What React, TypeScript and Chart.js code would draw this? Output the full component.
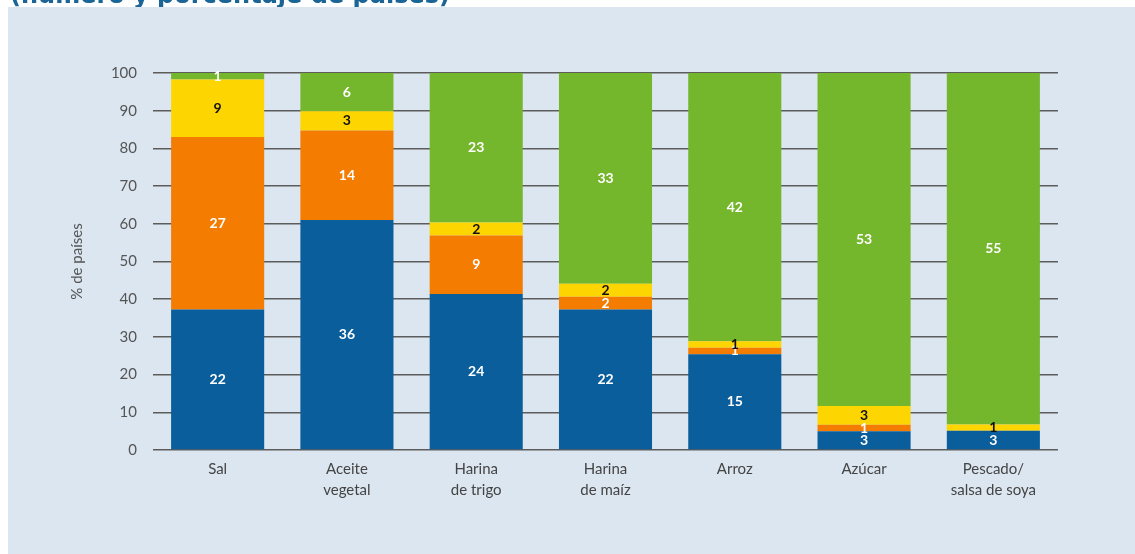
import React, { useEffect, useRef } from "react";
import { Chart, registerables } from "chart.js";

Chart.register(...registerables);

const categories: string[][] = [
  ["Sal"],
  ["Aceite", "vegetal"],
  ["Harina", "de trigo"],
  ["Harina", "de maíz"],
  ["Arroz"],
  ["Azúcar"],
  ["Pescado/", "salsa de soya"],
];

const blueCounts = [22, 36, 24, 22, 15, 3, 3];
const orangeCounts = [27, 14, 9, 2, 1, 1, 0];
const yellowCounts = [9, 3, 2, 2, 1, 3, 1];
const greenCounts = [1, 6, 23, 33, 42, 53, 55];

const yTicks = [0, 10, 20, 30, 40, 50, 60, 70, 80, 90, 100];

const seriesCounts = [blueCounts, orangeCounts, yellowCounts, greenCounts];
const seriesColors = ["#0b5e9c", "#f47c00", "#fdd500", "#74b62c"];
const labelColors = ["#ffffff", "#ffffff", "#111111", "#ffffff"];

const totals = categories.map((_, i) =>
  seriesCounts.reduce((s, arr) => s + arr[i], 0)
);
const toPct = (arr: number[]) => arr.map((v, i) => (v / totals[i]) * 100);

const FONT = "Lato, 'Open Sans', sans-serif";

const countLabels = {
  id: "countLabels",
  afterDatasetsDraw(chart: any) {
    const ctx = chart.ctx;
    ctx.save();
    ctx.font = `bold 14px ${FONT}`;
    ctx.textAlign = "center";
    ctx.textBaseline = "middle";
    chart.data.datasets.forEach((ds: any, di: number) => {
      const meta = chart.getDatasetMeta(di);
      meta.data.forEach((bar: any, i: number) => {
        const c = seriesCounts[di][i];
        if (!c) return;
        const y = (bar.y + bar.base) / 2;
        ctx.fillStyle = labelColors[di];
        ctx.fillText(String(c), bar.x, y);
      });
    });
    ctx.restore();
  },
};

export default function App() {
  const ref = useRef<HTMLCanvasElement | null>(null);

  useEffect(() => {
    if (!ref.current) return;
    const chart = new Chart(ref.current, {
      type: "bar",
      data: {
        labels: categories,
        datasets: seriesCounts.map((arr, di) => ({
          label: String(di),
          data: toPct(arr),
          backgroundColor: seriesColors[di],
          borderWidth: 0,
          barPercentage: 0.72,
          categoryPercentage: 1,
        })),
      },
      options: {
        animation: false,
        responsive: false,
        maintainAspectRatio: false,
        layout: { padding: { left: 58, right: 77, top: 66, bottom: 0 } },
        plugins: {
          legend: { display: false },
          tooltip: { enabled: false },
        },
        scales: {
          x: {
            stacked: true,
            grid: { display: false, drawTicks: false },
            border: { display: false },
            ticks: {
              color: "#444444",
              font: { family: FONT, size: 15, lineHeight: 1.45 },
              padding: 8,
              maxRotation: 0,
              autoSkip: false,
            },
            afterFit: (s: any) => {
              s.height = 104;
            },
          },
          y: {
            stacked: true,
            min: 0,
            max: 100,
            afterBuildTicks: (s: any) => {
              s.ticks = yTicks.map((v) => ({ value: v }));
            },
            grid: {
              color: "#5c5c5c",
              lineWidth: 1.5,
              drawTicks: false,
            },
            border: { display: false },
            ticks: {
              color: "#555555",
              font: { family: FONT, size: 15 },
              padding: 16,
            },
            title: {
              display: true,
              text: "% de países",
              color: "#555555",
              font: { family: FONT, size: 15 },
              padding: 2,
            },
            afterFit: (s: any) => {
              s.width = 87;
            },
          },
        },
      },
      plugins: [countLabels],
    });
    return () => chart.destroy();
  }, []);

  return (
    <div>
      <div
        style={{
          position: "fixed",
          left: 10,
          top: -17,
          fontFamily: "'DejaVu Sans', sans-serif",
          fontWeight: 700,
          fontSize: 24,
          lineHeight: "24px",
          color: "#1a6496",
          whiteSpace: "nowrap",
        }}
      >
        (número y porcentaje de países)
      </div>
      <div
        style={{
          position: "fixed",
          left: 8,
          top: 7,
          width: 1127,
          height: 547,
          background: "#dce6f0",
        }}
      >
        <canvas ref={ref} width={1127} height={547} style={{ display: "block" }} />
      </div>
    </div>
  );
}
